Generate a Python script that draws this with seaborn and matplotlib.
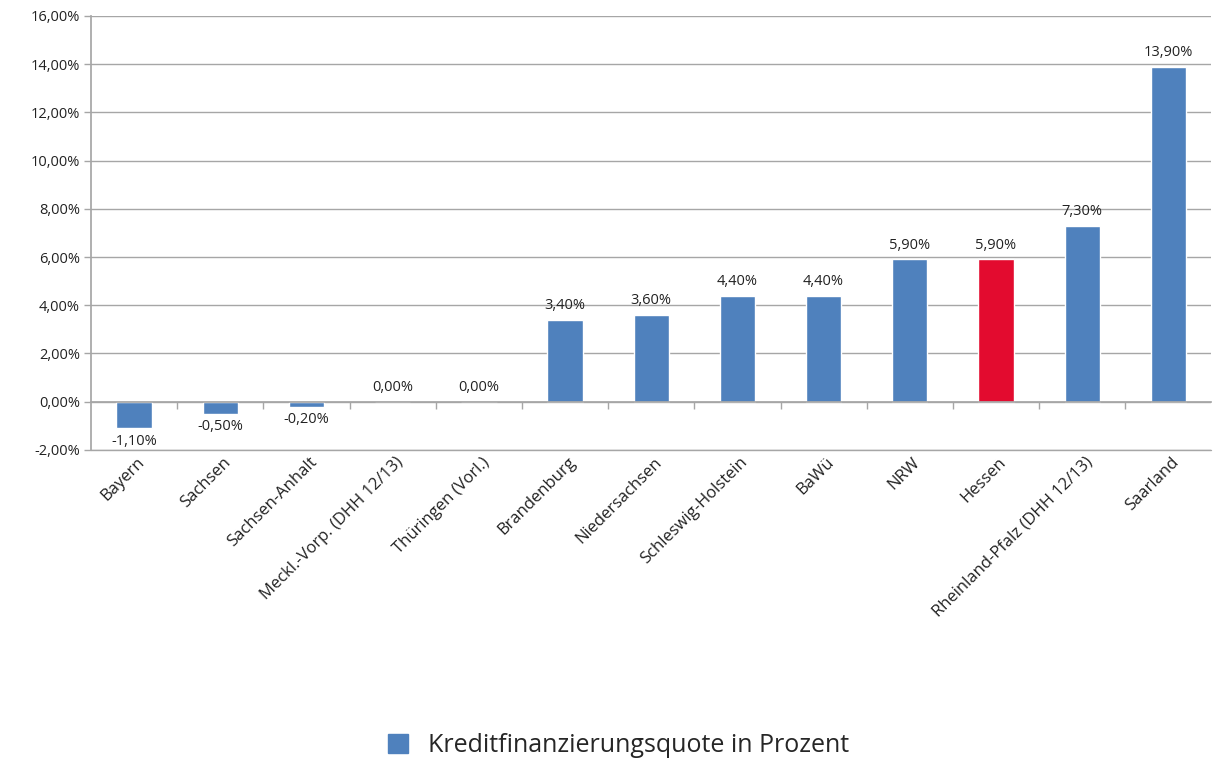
import matplotlib
matplotlib.use("Agg")
import matplotlib.pyplot as plt
import matplotlib.transforms as mtransforms
from matplotlib.patches import Patch
from matplotlib.ticker import FuncFormatter, FixedLocator
import seaborn as sns

laender = [
    "Bayern", "Sachsen", "Sachsen-Anhalt", "Meckl.-Vorp. (DHH 12/13)",
    "Thüringen (Vorl.)", "Brandenburg", "Niedersachsen", "Schleswig-Holstein",
    "BaWü", "NRW", "Hessen", "Rheinland-Pfalz (DHH 12/13)", "Saarland",
]
quote = [-1.1, -0.5, -0.2, 0.0, 0.0, 3.4, 3.6, 4.4, 4.4, 5.9, 5.9, 7.3, 13.9]
highlight = "Hessen"
legend_label = "Kreditfinanzierungsquote in Prozent"

BLUE = "#4F81BD"
RED = "#E30B2F"
GRID = "#A6A6A6"

sns.set_theme(style="white")
plt.rcParams["font.family"] = ["Open Sans", "DejaVu Sans"]


def pct(v, _=None):
    return f"{v:.2f}%".replace(".", ",")


fig, ax = plt.subplots(figsize=(12.2, 7.6), dpi=100)
fig.subplots_adjust(left=0.0746, right=0.993, top=0.979, bottom=0.408)

palette = {l: (RED if l == highlight else BLUE) for l in laender}
sns.barplot(x=laender, y=quote, hue=laender, palette=palette, legend=False,
            width=0.41, saturation=1, ax=ax, zorder=3)

ax.set_ylim(-2, 16)
ax.set_xlim(-0.5, len(laender) - 0.5)
ax.set_yticks(range(-2, 17, 2))
ax.yaxis.set_major_formatter(FuncFormatter(pct))
ax.grid(axis="y", color=GRID, linewidth=1, zorder=0)
ax.axhline(-2, color=GRID, linewidth=1, clip_on=False, zorder=1)
ax.tick_params(axis="y", direction="out", length=5, width=1, color=GRID,
               labelsize=10.5, labelcolor="#222222", pad=3, left=True)

# category axis sits on the zero line, tick marks between categories
for side in ("top", "right"):
    ax.spines[side].set_visible(False)
ax.spines["left"].set_color(GRID)
ax.spines["bottom"].set_position(("data", 0))
ax.spines["bottom"].set_color(GRID)
ax.spines["bottom"].set_zorder(4)
ax.xaxis.set_minor_locator(FixedLocator([i + 0.5 for i in range(len(laender) - 1)]))
ax.tick_params(axis="x", which="minor", direction="out", length=5, width=1,
               color=GRID, bottom=True)
ax.tick_params(axis="x", which="major", length=0, labelbottom=False)
ax.set_xlabel("")
ax.set_ylabel("")

trans = mtransforms.blended_transform_factory(ax.transData, ax.transAxes)
shift = mtransforms.ScaledTranslation(8 / 100, -10 / 100, fig.dpi_scale_trans)
for i, name in enumerate(laender):
    ax.text(i, 0, name, transform=trans + shift, rotation=45,
            rotation_mode="anchor", ha="right", va="center",
            fontsize=12, color="#222222")

for i, v in enumerate(quote):
    if v < 0:
        ax.annotate(pct(v), (i, v), xytext=(0, -4), textcoords="offset points",
                    ha="center", va="top", fontsize=10.5, color="#222222", zorder=5)
    else:
        ax.annotate(pct(v), (i, v), xytext=(0, 5), textcoords="offset points",
                    ha="center", va="bottom", fontsize=10.5, color="#222222", zorder=5)

fig.legend(handles=[Patch(facecolor=BLUE, edgecolor=BLUE, label=legend_label)],
           loc="center", bbox_to_anchor=(0.507, 0.019), frameon=False,
           fontsize=18, handlelength=0.8, handleheight=0.8, handletextpad=0.8)

fig.savefig("out.png", dpi=100, facecolor="white")
